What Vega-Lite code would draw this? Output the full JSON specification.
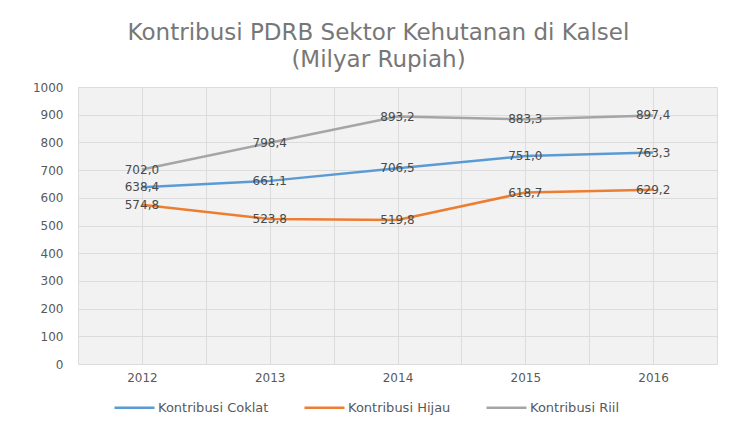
{
  "$schema": "https://vega.github.io/schema/vega-lite/v6.json",
  "width": 639,
  "height": 277,
  "autosize": "none",
  "padding": {"left": 78, "top": 87, "right": 12, "bottom": 59},
  "background": "white",
  "title": {
    "text": ["Kontribusi PDRB Sektor Kehutanan di Kalsel", "(Milyar Rupiah)"],
    "font": "DejaVu Sans",
    "fontSize": 23,
    "fontWeight": "normal",
    "color": "#777777",
    "lineHeight": 27,
    "anchor": "middle",
    "frame": "group",
    "dx": -19,
    "offset": 9
  },
  "data": {
    "values": [
      {"year": 2012, "series": "Kontribusi Coklat", "value": 638.4},
      {"year": 2013, "series": "Kontribusi Coklat", "value": 661.1},
      {"year": 2014, "series": "Kontribusi Coklat", "value": 706.5},
      {"year": 2015, "series": "Kontribusi Coklat", "value": 751.0},
      {"year": 2016, "series": "Kontribusi Coklat", "value": 763.3},
      {"year": 2012, "series": "Kontribusi Hijau", "value": 574.8},
      {"year": 2013, "series": "Kontribusi Hijau", "value": 523.8},
      {"year": 2014, "series": "Kontribusi Hijau", "value": 519.8},
      {"year": 2015, "series": "Kontribusi Hijau", "value": 618.7},
      {"year": 2016, "series": "Kontribusi Hijau", "value": 629.2},
      {"year": 2012, "series": "Kontribusi Riil", "value": 702.0},
      {"year": 2013, "series": "Kontribusi Riil", "value": 798.4},
      {"year": 2014, "series": "Kontribusi Riil", "value": 893.2},
      {"year": 2015, "series": "Kontribusi Riil", "value": 883.3},
      {"year": 2016, "series": "Kontribusi Riil", "value": 897.4}
    ]
  },
  "encoding": {
    "x": {
      "field": "year",
      "type": "quantitative",
      "scale": {"domain": [2011.5, 2016.5], "nice": false, "zero": false},
      "axis": {
        "title": null,
        "values": [2011.5, 2012, 2012.5, 2013, 2013.5, 2014, 2014.5, 2015, 2015.5, 2016, 2016.5],
        "labelExpr": "datum.value % 1 === 0 ? format(datum.value, 'd') : ''",
        "labelOverlap": false,
        "labelFlush": false,
        "domain": false,
        "ticks": false,
        "labelPadding": 8,
        "labelFont": "DejaVu Sans",
        "labelFontSize": 12,
        "labelColor": "#595959",
        "gridColor": "#dcdcdc",
        "gridWidth": 1
      }
    },
    "y": {
      "field": "value",
      "type": "quantitative",
      "scale": {"domain": [0, 1000], "nice": false},
      "axis": {
        "title": null,
        "values": [0, 100, 200, 300, 400, 500, 600, 700, 800, 900, 1000],
        "format": "d",
        "domain": false,
        "ticks": false,
        "labelPadding": 15,
        "labelFont": "DejaVu Sans",
        "labelFontSize": 12,
        "labelColor": "#595959",
        "gridColor": "#dcdcdc",
        "gridWidth": 1
      }
    }
  },
  "layer": [
    {
      "mark": {"type": "line", "strokeWidth": 2.5},
      "encoding": {
        "color": {
          "field": "series",
          "type": "nominal",
          "scale": {
            "domain": ["Kontribusi Coklat", "Kontribusi Hijau", "Kontribusi Riil"],
            "range": ["#5B9BD5", "#ED7D31", "#A5A5A5"]
          },
          "legend": {
            "title": null,
            "orient": "none",
            "direction": "horizontal",
            "legendX": 35,
            "legendY": 299,
            "symbolType": "stroke",
            "symbolSize": 1600,
            "symbolStrokeWidth": 2.5,
            "labelFont": "DejaVu Sans",
            "labelFontSize": 13,
            "labelColor": "#595959",
            "labelOffset": 2,
            "columnPadding": 30
          }
        }
      }
    },
    {
      "mark": {"type": "text", "font": "DejaVu Sans", "fontSize": 12, "color": "#4a4a4a", "baseline": "middle", "align": "center"},
      "encoding": {
        "text": {"field": "value", "type": "quantitative", "format": ".1f"}
      }
    }
  ],
  "config": {
    "locale": {
      "number": {"decimal": ",", "thousands": ".", "grouping": [3], "currency": ["Rp", ""]}
    },
    "view": {"fill": "#f2f2f2", "stroke": null}
  }
}
